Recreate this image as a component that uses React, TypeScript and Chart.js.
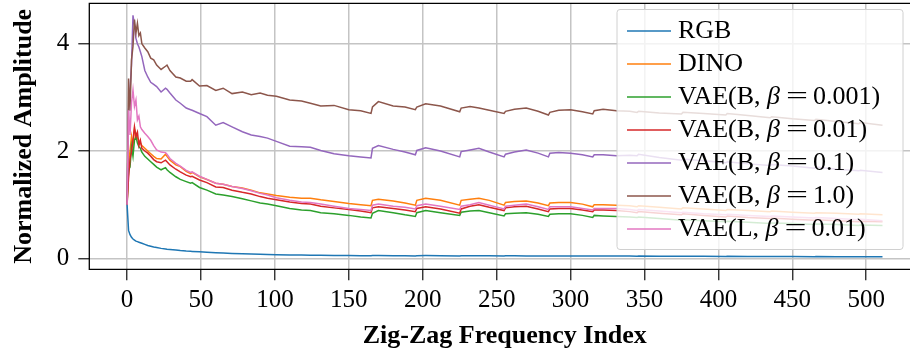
import React, { useEffect, useRef } from "react";
import { Chart, registerables } from "chart.js";
Chart.register(...registerables);

const INDEX = [
  0, 1, 2, 3, 4, 5, 6, 7, 8, 9, 10,
  12, 14, 16, 18, 20,
  23, 26, 27, 29, 33,
  36, 40, 43, 44, 49,
  54, 60, 65, 71, 78,
  84, 90, 95, 101, 110,
  118, 124, 131, 140, 150,
  158, 165, 166, 170, 180,
  188, 195, 196, 202, 212,
  225, 226, 232, 238, 245,
  255, 256, 262, 270, 278,
  285, 286, 292, 300, 308,
  315, 316, 322, 331, 340,
  345, 346, 360, 375, 376,
  390, 405, 406, 420, 435,
  436, 450, 465, 466, 480,
  495, 496, 511,
];

const RGB = [
  1.0, 0.52, 0.44, 0.39, 0.36, 0.34, 0.32, 0.31, 0.30, 0.29, 0.28,
  0.26, 0.24, 0.225, 0.21, 0.20,
  0.185, 0.175, 0.17, 0.165, 0.155,
  0.145, 0.135, 0.13, 0.128, 0.12,
  0.112, 0.103, 0.097, 0.09, 0.085,
  0.08, 0.075, 0.072, 0.068, 0.063,
  0.06, 0.058, 0.056, 0.053, 0.05,
  0.048, 0.046, 0.05, 0.05, 0.048,
  0.047, 0.045, 0.049, 0.05, 0.048,
  0.044, 0.048, 0.049, 0.048, 0.046,
  0.043, 0.046, 0.046, 0.045, 0.044,
  0.042, 0.045, 0.045, 0.044, 0.043,
  0.041, 0.043, 0.043, 0.042, 0.041,
  0.04, 0.042, 0.04, 0.038, 0.039,
  0.037, 0.035, 0.036, 0.034, 0.033,
  0.034, 0.032, 0.031, 0.032, 0.03,
  0.028, 0.029, 0.027,
];

const DINO = [
  1.0, 1.8, 2.0, 2.27, 2.1, 2.4, 2.33, 2.25, 2.2, 2.15, 2.1,
  2.05, 2.0, 1.95, 1.9, 1.86,
  1.85, 1.94, 1.9, 1.83, 1.74,
  1.71, 1.62, 1.58, 1.6, 1.52,
  1.47, 1.40, 1.38, 1.34, 1.31,
  1.27, 1.22, 1.20, 1.17, 1.14,
  1.12, 1.12, 1.09, 1.06, 1.02,
  1.00, 0.98, 1.08, 1.10, 1.07,
  1.03, 0.99, 1.08, 1.12, 1.08,
  0.99, 1.08, 1.10, 1.12, 1.08,
  0.99, 1.04, 1.06, 1.07, 1.03,
  0.98, 1.03, 1.04, 1.04, 1.01,
  0.96, 1.00, 1.00, 0.99, 0.98,
  0.96, 0.98, 0.95, 0.92, 0.94,
  0.92, 0.89, 0.91, 0.89, 0.87,
  0.88, 0.86, 0.84, 0.85, 0.84,
  0.82, 0.83, 0.81,
];

const VAE_B_0001 = [
  1.0, 1.65, 1.7, 2.08, 1.9, 2.2, 2.27, 2.15, 2.08, 2.05, 1.98,
  1.9, 1.85, 1.8, 1.75, 1.7,
  1.65, 1.69, 1.65, 1.6, 1.52,
  1.47, 1.43, 1.40, 1.41, 1.32,
  1.27, 1.20, 1.18, 1.15, 1.11,
  1.07, 1.03, 1.01, 0.98, 0.93,
  0.90, 0.89, 0.85, 0.83, 0.80,
  0.77, 0.75, 0.84, 0.89, 0.85,
  0.81, 0.78, 0.85, 0.89, 0.85,
  0.80, 0.86, 0.88, 0.89, 0.85,
  0.79, 0.83, 0.84, 0.85, 0.82,
  0.78, 0.82, 0.83, 0.83, 0.80,
  0.76, 0.80, 0.79, 0.78, 0.77,
  0.76, 0.77, 0.74, 0.71, 0.72,
  0.70, 0.68, 0.69, 0.67, 0.65,
  0.66, 0.65, 0.63, 0.64, 0.63,
  0.61, 0.62, 0.61,
];

const VAE_B_001 = [
  1.0, 1.5, 1.85, 1.99, 2.2, 2.45, 2.27, 2.35, 2.1, 2.2, 2.05,
  2.0, 1.96, 1.9, 1.84, 1.80,
  1.78, 1.83, 1.8, 1.74, 1.66,
  1.61, 1.55, 1.52, 1.53, 1.46,
  1.41, 1.33, 1.32, 1.27, 1.23,
  1.20, 1.15, 1.12, 1.09, 1.05,
  1.02, 1.01, 0.97, 0.94, 0.91,
  0.88, 0.85, 0.94, 0.96, 0.93,
  0.90, 0.87, 0.93, 0.96, 0.92,
  0.84, 0.92, 0.97, 1.0, 0.95,
  0.89, 0.94, 0.96, 0.97, 0.92,
  0.87, 0.92, 0.93, 0.93, 0.90,
  0.87, 0.90, 0.90, 0.89, 0.87,
  0.85, 0.87, 0.84, 0.81, 0.83,
  0.80, 0.77, 0.79, 0.76, 0.74,
  0.75, 0.73, 0.71, 0.72, 0.70,
  0.68, 0.69, 0.68,
];

const VAE_B_01 = [
  1.0, 2.76, 3.14, 3.6, 4.53, 4.35, 4.1, 4.0, 3.94, 3.85, 3.76,
  3.5, 3.38, 3.28, 3.24, 3.2,
  3.1, 3.17, 3.15, 3.08, 2.95,
  2.89, 2.8, 2.77, 2.76, 2.7,
  2.64, 2.48, 2.53, 2.45, 2.36,
  2.30, 2.27, 2.24, 2.18, 2.09,
  2.08, 2.07, 2.01, 1.95, 1.91,
  1.89, 1.87, 2.05, 2.10, 2.03,
  1.98, 1.93, 2.01, 2.06, 2.0,
  1.89, 1.99, 2.02, 2.05, 1.98,
  1.89, 1.94, 1.98, 2.02, 1.96,
  1.89, 1.96, 1.97, 1.96, 1.93,
  1.89, 1.93, 1.93, 1.91, 1.92,
  1.91, 1.94, 1.88, 1.83, 1.85,
  1.82, 1.78, 1.80, 1.76, 1.73,
  1.75, 1.72, 1.68, 1.70, 1.66,
  1.63, 1.64, 1.60,
];

const VAE_B_1 = [
  1.0, 3.35, 2.75, 3.7, 3.95, 4.45, 4.2, 4.38, 4.15, 4.2, 4.0,
  3.92, 3.85, 3.73, 3.7, 3.6,
  3.52, 3.58, 3.6, 3.5, 3.38,
  3.36, 3.3, 3.3, 3.33, 3.21,
  3.22, 3.13, 3.17, 3.07, 3.1,
  3.05, 3.08, 3.04, 3.02, 2.95,
  2.93, 2.89, 2.84, 2.85, 2.77,
  2.75, 2.70, 2.82, 2.92, 2.84,
  2.82, 2.77, 2.82, 2.88, 2.84,
  2.73, 2.80, 2.83, 2.80, 2.76,
  2.70, 2.74, 2.78, 2.80, 2.74,
  2.67, 2.72, 2.76, 2.77, 2.73,
  2.69, 2.75, 2.78, 2.75, 2.74,
  2.72, 2.74, 2.71, 2.69, 2.72,
  2.70, 2.67, 2.70, 2.66, 2.62,
  2.64, 2.60, 2.57, 2.59, 2.55,
  2.51, 2.53, 2.48,
];

const VAE_L_001 = [
  1.0, 2.76, 2.3, 2.9, 3.14, 2.83, 2.95, 2.58, 2.65, 2.45, 2.4,
  2.33, 2.27, 2.2, 2.1, 2.02,
  1.98, 1.97, 1.94, 1.86, 1.77,
  1.72, 1.64, 1.60, 1.61, 1.53,
  1.47, 1.40, 1.38, 1.34, 1.30,
  1.26, 1.21, 1.18, 1.13, 1.08,
  1.05, 1.04, 1.01, 0.97, 0.93,
  0.91, 0.89, 0.99, 1.01, 0.97,
  0.95, 0.92, 0.98, 1.01, 0.97,
  0.91, 0.97, 1.00, 1.04, 0.99,
  0.92, 0.97, 0.99, 1.01, 0.96,
  0.91, 0.96, 0.96, 0.96, 0.93,
  0.90, 0.93, 0.93, 0.93, 0.91,
  0.89, 0.91, 0.88, 0.85, 0.86,
  0.83, 0.81, 0.82, 0.80, 0.78,
  0.79, 0.77, 0.75, 0.76, 0.74,
  0.72, 0.73, 0.70,
];

const SERIES_NAMES = [
  "RGB",
  "DINO",
  "VAE(B, β = 0.001)",
  "VAE(B, β = 0.01)",
  "VAE(B, β = 0.1)",
  "VAE(B, β = 1.0)",
  "VAE(L, β = 0.01)",
];
const SERIES_VALUES = [RGB, DINO, VAE_B_0001, VAE_B_001, VAE_B_01, VAE_B_1, VAE_L_001];
const SERIES_COLORS = ["#1f77b4", "#ff7f0e", "#2ca02c", "#d62728", "#9467bd", "#8c564b", "#e377c2"];

const X_TICKS = [0, 50, 100, 150, 200, 250, 300, 350, 400, 450, 500];
const Y_TICKS = [0, 2, 4];
const X_TITLE = "Zig-Zag Frequency Index";
const Y_TITLE = "Normalized Amplitude";

const SERIF = '"Liberation Serif", "Times New Roman", serif';

export default function App() {
  const ref = useRef<HTMLCanvasElement>(null);

  useEffect(() => {
    document.body.style.margin = "0";
    const canvas = ref.current!;
    const datasets = SERIES_NAMES.map((name, i) => ({
      label: name,
      data: INDEX.map((x, j) => ({ x, y: SERIES_VALUES[i][j] })),
      borderColor: SERIES_COLORS[i],
      backgroundColor: SERIES_COLORS[i],
      borderWidth: 1.5,
      pointRadius: 0,
      tension: 0,
      fill: false,
      order: SERIES_NAMES.length - i,
    }));

    const decor = {
      id: "decor",
      afterDatasetsDraw(chart: any) {
        const { ctx, chartArea: a } = chart;
        ctx.save();
        ctx.strokeStyle = "#000";
        ctx.lineWidth = 1.3;
        ctx.beginPath();
        ctx.moveTo(a.right + 2, a.top);
        ctx.lineTo(a.left, a.top);
        ctx.lineTo(a.left, a.bottom);
        ctx.lineTo(a.right + 2, a.bottom);
        ctx.stroke();
        ctx.restore();
      },
      afterDraw(chart: any) {
        const { ctx } = chart;
        const xs = chart.scales.x;
        // x-axis title, centred on the full (cropped) axis
        ctx.save();
        ctx.fillStyle = "#000";
        ctx.font = `bold 26px ${SERIF}`;
        ctx.textAlign = "center";
        ctx.textBaseline = "alphabetic";
        ctx.fillText(X_TITLE, xs.getPixelForValue(255.5), 343);
        ctx.restore();

        // legend
        ctx.save();
        const bx = 617, by = 9.5, bw = 286, bh = 240, r = 3;
        ctx.beginPath();
        ctx.moveTo(bx + r, by);
        ctx.lineTo(bx + bw - r, by);
        ctx.quadraticCurveTo(bx + bw, by, bx + bw, by + r);
        ctx.lineTo(bx + bw, by + bh - r);
        ctx.quadraticCurveTo(bx + bw, by + bh, bx + bw - r, by + bh);
        ctx.lineTo(bx + r, by + bh);
        ctx.quadraticCurveTo(bx, by + bh, bx, by + bh - r);
        ctx.lineTo(bx, by + r);
        ctx.quadraticCurveTo(bx, by, bx + r, by);
        ctx.closePath();
        ctx.fillStyle = "rgba(255,255,255,0.8)";
        ctx.fill();
        ctx.strokeStyle = "#d0d0d0";
        ctx.lineWidth = 1;
        ctx.stroke();

        SERIES_NAMES.forEach((name, i) => {
          const y = 31 + i * 33;
          ctx.strokeStyle = SERIES_COLORS[i];
          ctx.lineWidth = 1.5;
          ctx.beginPath();
          ctx.moveTo(627, y);
          ctx.lineTo(671, y);
          ctx.stroke();

          const base = y + 7;
          let x = 678;
          ctx.fillStyle = "#000";
          ctx.textAlign = "left";
          ctx.textBaseline = "alphabetic";
          ctx.font = `26px ${SERIF}`;
          const parts = name.split("β = ");
          if (parts.length === 1) {
            ctx.fillText(name, x, base);
            return;
          }
          ctx.fillText(parts[0], x, base);
          x += ctx.measureText(parts[0]).width;
          ctx.font = `italic 26px ${SERIF}`;
          ctx.fillText("β", x, base);
          x += ctx.measureText("β").width + 6;
          ctx.font = `26px ${SERIF}`;
          const eqW = ctx.measureText("=").width;
          ctx.save();
          ctx.translate(x, base);
          ctx.scale(1.5, 1);
          ctx.fillText("=", 0, 0);
          ctx.restore();
          x += eqW * 1.5 + 5;
          ctx.fillText(parts[1], x, base);
        });
        ctx.restore();
      },
    };

    const chart = new Chart(canvas, {
      type: "line",
      data: { datasets },
      options: {
        responsive: false,
        animation: false,
        devicePixelRatio: 1,
        layout: { padding: { top: 3.3, right: 0, bottom: 0, left: 0 } },
        plugins: { legend: { display: false }, tooltip: { enabled: false } },
        scales: {
          x: {
            type: "linear",
            min: -25.55,
            max: 529.6,
            afterBuildTicks: (s: any) => {
              s.ticks = X_TICKS.map((v) => ({ value: v }));
            },
            afterFit: (s: any) => {
              s.height = 353 - 269.3;
              s.paddingLeft = 0;
              s.paddingRight = 0;
            },
            ticks: {
              font: { family: SERIF, size: 25 },
              color: "#000",
              padding: 5,
              maxRotation: 0,
              autoSkip: false,
            },
            grid: {
              color: "#c4c4c4",
              lineWidth: 1.5,
              tickLength: 11,
              tickColor: "#222",
              tickWidth: 1.3,
            },
            border: { display: false },
          },
          y: {
            type: "linear",
            min: -0.205,
            max: 4.753,
            afterBuildTicks: (s: any) => {
              s.ticks = Y_TICKS.map((v) => ({ value: v }));
            },
            afterFit: (s: any) => {
              s.width = 89.3;
              s.paddingTop = 0;
              s.paddingBottom = 0;
            },
            ticks: {
              font: { family: SERIF, size: 25 },
              color: "#000",
              padding: 9,
            },
            grid: {
              color: "#c4c4c4",
              lineWidth: 1.5,
              tickLength: 11,
              tickColor: "#222",
              tickWidth: 1.3,
            },
            border: { display: false },
            title: {
              display: true,
              text: Y_TITLE,
              color: "#000",
              font: { family: SERIF, size: 26, weight: "bold" },
              padding: { top: 9, bottom: 0 },
            },
          },
        },
      },
      plugins: [decor],
    } as any);

    return () => chart.destroy();
  }, []);

  return (
    <div style={{ width: 910, height: 353, position: "relative" }}>
      <canvas ref={ref} width={910} height={353} style={{ display: "block" }} />
    </div>
  );
}
